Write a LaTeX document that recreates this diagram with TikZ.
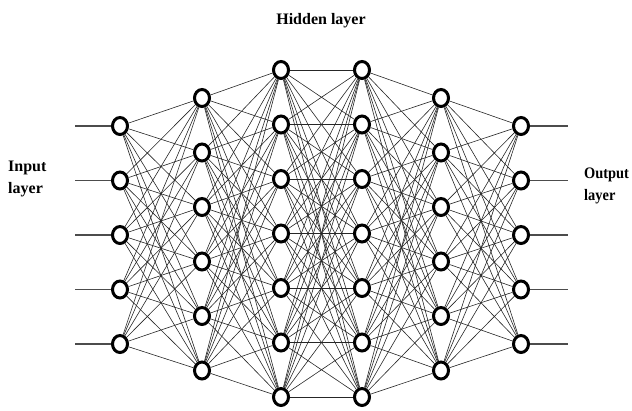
\documentclass[tikz,border=0pt]{standalone}
\usepackage{fontspec}
\setmainfont{Liberation Serif}
\newfontfamily\narrowlbl[FakeStretch=0.9]{Liberation Serif}
\usetikzlibrary{shapes.geometric}
\begin{document}
\begin{tikzpicture}[x=1pt,y=-1pt,
  neuron/.style={ellipse,draw=black,line width=3pt,fill=white,minimum width=15pt,minimum height=17pt,inner sep=0pt},
  link/.style={draw=black!85,line width=0.6pt},
  io/.style={draw=black!70,line width=1.1pt},
  lbl/.style={font=\bfseries\fontsize{16}{22}\selectfont,align=left,inner sep=0pt}]
\useasboundingbox (0,0) rectangle (632,410);
% layers: x positions, start y, count
\foreach \x/\ys/\n [count=\l] in {120/126/5, 202/98/6, 281/70/7, 362/70/7, 441/98/6, 521/126/5}{
  \foreach \i in {1,...,\n}{
    \node[neuron] (n\l-\i) at (\x,{\ys+(\i-1)*54.5}) {};
  }
}
% connections
\foreach \a/\na/\b/\nb in {1/5/2/6, 2/6/3/7, 3/7/4/7, 4/7/5/6, 5/6/6/5}{
  \foreach \i in {1,...,\na}{
    \foreach \j in {1,...,\nb}{
      \draw[link] (n\a-\i) -- (n\b-\j);
    }
  }
}
% input / output lines
\foreach \i in {1,...,5}{
  \coordinate (in\i) at (75,{126+(\i-1)*54.5});
  \coordinate (out\i) at (568,{126+(\i-1)*54.5});
  \draw[io] (in\i) -- (n1-\i);
  \draw[io] (n6-\i) -- (out\i);
}
\node[lbl] (hidden) at (321,21) {Hidden layer};
\node[lbl,anchor=west] (input) at (8,179) {Input\\layer};
\node[lbl,anchor=west,font=\narrowlbl\bfseries\fontsize{16}{22}\selectfont] (output) at (584,186) {Output\\layer};
\end{tikzpicture}
\end{document}
